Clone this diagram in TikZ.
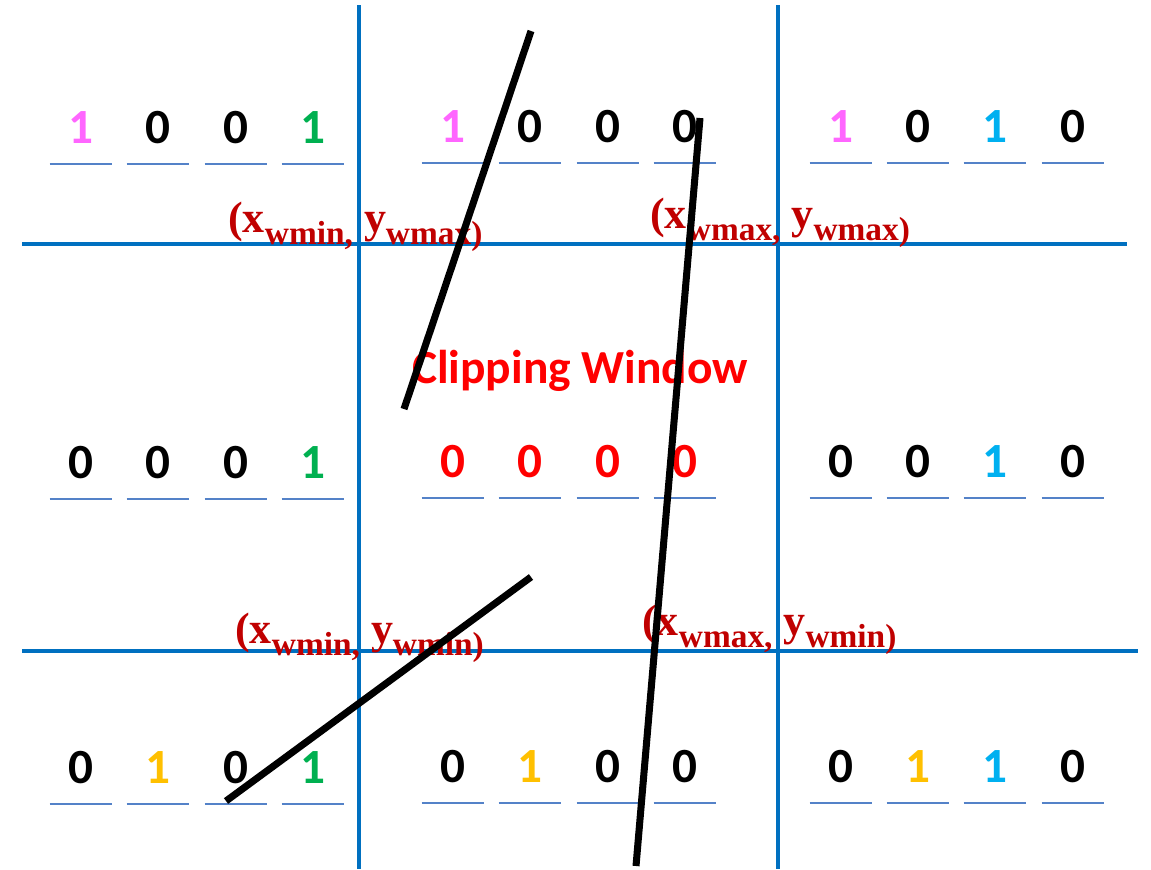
\documentclass[tikz,border=0pt]{standalone}
\usepackage{fontspec}
\setmainfont{Liberation Serif}
\newfontfamily\bitfont{Carlito}
\definecolor{gridblue}{RGB}{0,112,192}
\definecolor{lineblue}{RGB}{84,130,200}
\definecolor{darkred}{RGB}{192,0,0}
\definecolor{winred}{RGB}{255,0,0}
\definecolor{bitpink}{RGB}{255,102,255}
\definecolor{bitgreen}{RGB}{0,176,80}
\definecolor{bitcyan}{RGB}{0,176,240}
\definecolor{bitorange}{RGB}{255,192,0}
\newcommand{\subtxt}[1]{\raisebox{-7pt}{\fontsize{19}{19}\selectfont #1}}
\newcommand{\cornerlbl}[2]{(x\subtxt{w#1,} y\subtxt{w#2)}}
\tikzset{
	grid/.style={gridblue,line width=2.6pt},
	uline/.style={lineblue,line width=1.1pt},
	bit/.style={anchor=base,inner sep=0pt,minimum width=1.24cm,
		text height=0.62cm,text depth=0.42cm,
		font=\bitfont\bfseries\fontsize{28}{28}\selectfont,
		append after command={\pgfextra{\let\bitnode\tikzlastnode}
			(\bitnode.south west) edge[uline] (\bitnode.south east)}},
	corner/.style={anchor=base west,inner sep=0pt,text=darkred,
		font=\bfseries\fontsize{25}{25}\selectfont},
	seg/.style={line width=4pt}
}

\begin{document}
\begin{tikzpicture}[x=0.02cm,y=-0.02cm]
	\useasboundingbox (0,0) rectangle (1151,869);
	% grid lines
	\coordinate (V1t) at (359,5);
	\coordinate (V1b) at (359,869);
	\coordinate (V2t) at (778,5);
	\coordinate (V2b) at (778,869);
	\coordinate (H1l) at (22,244);
	\coordinate (H1r) at (1127,244);
	\coordinate (H2l) at (22,651);
	\coordinate (H2r) at (1138,651);
	\draw [grid] (V1t) -- (V1b);
	\draw [grid] (V2t) -- (V2b);
	\draw [grid] (H1l) -- (H1r);
	\draw [grid] (H2l) -- (H2r);

	% region codes, top row
	\node [bit,text=bitpink] (TL1) at (81,143) {1};
	\node [bit] (TL2) at (158,143) {0};
	\node [bit] (TL3) at (236,143) {0};
	\node [bit,text=bitgreen] (TL4) at (313,143) {1};
	\node [bit,text=bitpink] (TM1) at (453,142) {1};
	\node [bit] (TM2) at (530,142) {0};
	\node [bit] (TM3) at (608,142) {0};
	\node [bit] (TM4) at (685,142) {0};
	\node [bit,text=bitpink] (TR1) at (841,142) {1};
	\node [bit] (TR2) at (918,142) {0};
	\node [bit,text=bitcyan] (TR3) at (995,142) {1};
	\node [bit] (TR4) at (1073,142) {0};

	% middle row
	\node [bit] (ML1) at (81,478) {0};
	\node [bit] (ML2) at (158,478) {0};
	\node [bit] (ML3) at (236,478) {0};
	\node [bit,text=bitgreen] (ML4) at (313,478) {1};
	\node [bit,text=winred] (MM1) at (453,477) {0};
	\node [bit,text=winred] (MM2) at (530,477) {0};
	\node [bit,text=winred] (MM3) at (608,477) {0};
	\node [bit,text=winred] (MM4) at (685,477) {0};
	\node [bit] (MR1) at (841,477) {0};
	\node [bit] (MR2) at (918,477) {0};
	\node [bit,text=bitcyan] (MR3) at (995,477) {1};
	\node [bit] (MR4) at (1073,477) {0};

	% bottom row
	\node [bit] (BL1) at (81,783) {0};
	\node [bit,text=bitorange] (BL2) at (158,783) {1};
	\node [bit] (BL3) at (236,783) {0};
	\node [bit,text=bitgreen] (BL4) at (313,783) {1};
	\node [bit] (BM1) at (453,782) {0};
	\node [bit,text=bitorange] (BM2) at (530,782) {1};
	\node [bit] (BM3) at (608,782) {0};
	\node [bit] (BM4) at (685,782) {0};
	\node [bit] (BR1) at (841,782) {0};
	\node [bit,text=bitorange] (BR2) at (918,782) {1};
	\node [bit,text=bitcyan] (BR3) at (995,782) {1};
	\node [bit] (BR4) at (1073,782) {0};

	% window corners
	\node [corner] (cTL) at (228,232) {\cornerlbl{min}{max}};
	\node [corner] (cTR) at (650,228) {\cornerlbl{max}{max}};
	\node [corner] (cBL) at (235,643) {\cornerlbl{min}{min}};
	\node [corner] (cBR) at (642,635) {\cornerlbl{max}{min}};
	\node [anchor=base,inner sep=0pt,text=winred,
		font=\bitfont\bfseries\fontsize{27}{27}\selectfont] (win) at (580,383) {Clipping Window};

	% line segments
	\coordinate (A1) at (531,31);
	\coordinate (A2) at (404,409);
	\coordinate (B1) at (700,118);
	\coordinate (B2) at (636,866);
	\coordinate (C1) at (531,577);
	\coordinate (C2) at (226,801);
	\draw [seg] (A1) -- (A2);
	\draw [seg] (B1) -- (B2);
	\draw [seg] (C1) -- (C2);
\end{tikzpicture}
\end{document}
